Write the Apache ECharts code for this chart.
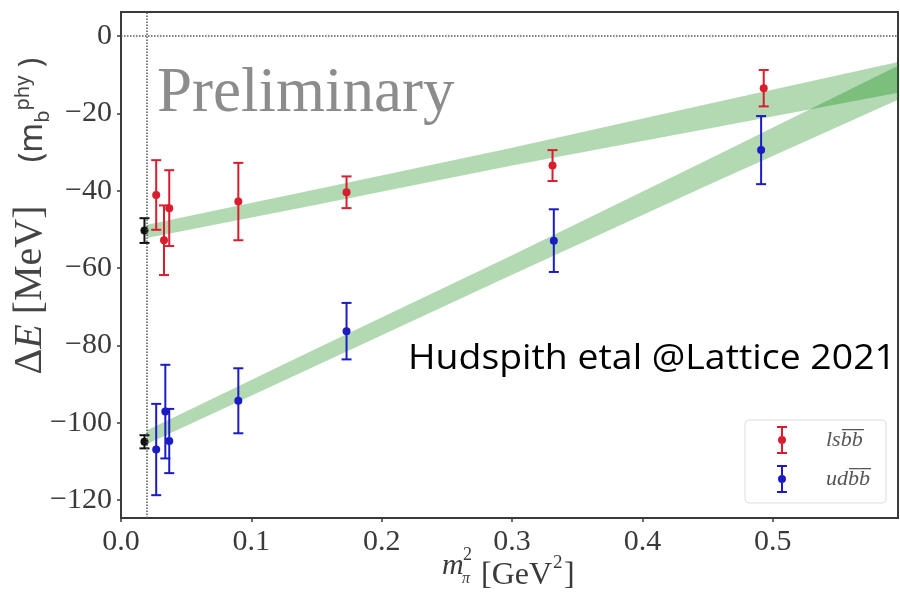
<!DOCTYPE html>
<html>
<head>
<meta charset="utf-8">
<script src="https://cdn.jsdelivr.net/npm/echarts@6/dist/echarts.min.js"></script>
<style>
  html, body { margin: 0; padding: 0; background: #fff; }
  #main { width: 900px; height: 596px; }
</style>
</head>
<body>
<div id="main"></div>
<script>
// ---- data ----
// lsbb points: m_pi^2, dE, error
const lsbbX = [0.027, 0.033, 0.037, 0.090, 0.173, 0.331, 0.493];
const lsbbY = [-41.1, -52.8, -44.5, -42.8, -40.4, -33.5, -13.5];
const lsbbErr = [9.0, 9.0, 9.8, 10.0, 4.1, 4.0, 4.7];

// udbb points
const udbbX = [0.027, 0.034, 0.037, 0.090, 0.173, 0.332, 0.491];
const udbbY = [-106.9, -97.1, -104.7, -94.3, -76.3, -52.9, -29.5];
const udbbErr = [11.8, 12.1, 8.3, 8.4, 7.3, 8.1, 8.8];

// physical point results (black)
const physX = [0.018, 0.018];
const physY = [-50.3, -104.9];
const physErr = [3.2, 1.7];

// fit bands (upper / lower edge)
const bandX = [0.02, 0.15, 0.3, 0.45, 0.596];
const lsbbBandHi = [-48.8, -39.6, -28.9, -17.6, -6.7];
const lsbbBandLo = [-52.2, -43.6, -33.5, -24.0, -14.7];
const udbbBandHi = [-101.9, -80.8, -56.7, -32.0, -7.7];
const udbbBandLo = [-105.5, -85.2, -61.7, -38.6, -16.5];

const physMpi2 = 0.018;

const serif = '"Liberation Serif", "DejaVu Serif", serif';
const sans = '"Noto Sans", "DejaVu Sans", sans-serif';
const red = '#d81e2e';
const blue = '#1c1cc4';
const bandColor = 'rgba(0, 128, 0, 0.3)';
const textGray = '#3a3a3a';

// 误差棒图标 (caps, stem split round the dot, dot drawn clockwise)
const errIcon = 'path://M0,0H10V2H0Z M4,2H6V10H4Z M4,18H6V26H4Z M0,26H10V28H0Z M1,14A4,4,0,1,1,9,14A4,4,0,1,1,1,14Z';

const chart = echarts.init(document.getElementById('main'));

function toPoints(xs, ys, es) {
  return xs.map((x, i) => [x, ys[i], es[i]]);
}

function errorBar(params, api) {
  const x = api.value(0);
  const y = api.value(1);
  const e = api.value(2);
  const c = api.coord([x, y]);
  const top = api.coord([x, y + e]);
  const bot = api.coord([x, y - e]);
  const color = api.visual('color');
  const cap = 5;
  const ls = { stroke: color, lineWidth: 2 };
  return {
    type: 'group',
    children: [
      { type: 'line', shape: { x1: c[0], y1: top[1], x2: c[0], y2: bot[1] }, style: ls },
      { type: 'line', shape: { x1: c[0] - cap, y1: top[1], x2: c[0] + cap, y2: top[1] }, style: ls },
      { type: 'line', shape: { x1: c[0] - cap, y1: bot[1], x2: c[0] + cap, y2: bot[1] }, style: ls },
      { type: 'circle', shape: { cx: c[0], cy: c[1], r: 4 }, style: { fill: color } }
    ]
  };
}

function bandSeries(hi, lo) {
  return {
    type: 'custom',
    silent: true,
    z: 1,
    data: [[0]],
    renderItem: (params, api) => {
      const pts = [];
      bandX.forEach((x, i) => pts.push(api.coord([x, hi[i]])));
      for (let i = bandX.length - 1; i >= 0; i--) pts.push(api.coord([bandX[i], lo[i]]));
      return { type: 'polygon', shape: { points: pts }, style: { fill: bandColor } };
    }
  };
}

// helper for free text, y is the middle of the line
function label(text, x, y, font, fill, extra) {
  return Object.assign({
    type: 'text', x: x, y: y, silent: true,
    style: { text: text, font: font, fill: fill || textGray, verticalAlign: 'middle' }
  }, extra || {});
}

const option = {
  backgroundColor: '#fff',
  animation: false,
  grid: {
    left: 121, right: 2, top: 12, bottom: 78,
    show: true, borderColor: '#3a3a3a', borderWidth: 2, backgroundColor: '#fff'
  },
  xAxis: {
    type: 'value',
    min: 0, max: 0.596, splitNumber: 5,
    axisLine: { show: false, onZero: false },
    axisTick: { show: true, length: 4, inside: false, lineStyle: { color: '#3a3a3a', width: 1.5 } },
    splitLine: { show: false },
    axisLabel: {
      margin: 9,
      fontFamily: serif, fontSize: 30, color: textGray,
      showMaxLabel: false,
      formatter: v => Math.abs(v * 10 - Math.round(v * 10)) < 1e-6 ? v.toFixed(1) : ''
    }
  },
  yAxis: {
    type: 'value',
    min: -124.6, max: 6.2, splitNumber: 6,
    axisLine: { show: false, onZero: false },
    axisTick: { show: true, length: 4, lineStyle: { color: '#3a3a3a', width: 1.5 } },
    splitLine: { show: false },
    axisLabel: {
      margin: 9,
      fontFamily: serif, fontSize: 30, color: textGray,
      showMinLabel: false, showMaxLabel: false,
      formatter: v => (Math.abs(v % 20) < 1e-6 ? (v < 0 ? '\u2212' + (-v) : String(v)) : '')
    }
  },
  legend: {
    orient: 'vertical',
    left: 745, top: 420,
    padding: [6, 16, 10, 32],
    itemGap: 11,
    itemWidth: 10, itemHeight: 28,
    backgroundColor: 'rgba(255,255,255,0.8)',
    borderColor: '#dddddd', borderWidth: 1, borderRadius: 4,
    data: [
      { name: 'lsb\u0305b\u0305', icon: errIcon },
      { name: 'udb\u0305b\u0305', icon: errIcon }
    ],
    textStyle: {
      fontFamily: serif, fontStyle: 'italic', fontSize: 22, color: '#555',
      padding: [0, 0, 0, 34]
    },
    selectedMode: false
  },
  graphic: [
    label('Preliminary', 157, 94, '63px ' + serif, '#8c8c8c'),
    label('Hudspith etal @Lattice 2021', 408, 359, '34px "Open Sans", sans-serif', '#000', { scaleX: 1.1 }),
    // y axis name
    {
      type: 'text', x: 30, y: 290, rotation: Math.PI / 2, silent: true,
      style: {
        text: '{n|\u0394}{i|E}{n| [MeV]}',
        align: 'center', verticalAlign: 'middle', fill: '#444',
        rich: {
          n: { fontFamily: serif, fontSize: 40, fill: '#444' },
          i: { fontFamily: serif, fontSize: 40, fontStyle: 'italic', fill: '#444' }
        }
      }
    },
    {
      type: 'text', x: 33, y: 110, rotation: Math.PI / 2, silent: true,
      style: {
        text: '{s|(m}{sub|b}{sup|phy}{s| )}',
        align: 'center', verticalAlign: 'middle', fill: '#444',
        rich: {
          s: { fontFamily: sans, fontSize: 32, lineHeight: 40, fill: '#444' },
          sub: { fontFamily: sans, fontSize: 20, lineHeight: 20, verticalAlign: 'bottom', fill: '#444' },
          sup: { fontFamily: sans, fontSize: 20, lineHeight: 20, verticalAlign: 'top', fill: '#444' }
        }
      }
    },
    // x axis name: m_pi^2 [GeV^2]
    label('m', 442, 566, 'italic 30px ' + serif),
    label('2', 463, 555, '18px ' + serif),
    label('\u03c0', 462, 579, 'italic 16px ' + serif),
    label('[GeV', 481, 576, '32px ' + serif),
    label('2', 553, 563, '19px ' + serif),
    label(']', 564, 576, '32px ' + serif)
  ],
  series: [
    bandSeries(lsbbBandHi, lsbbBandLo),
    bandSeries(udbbBandHi, udbbBandLo),
    {
      type: 'line', data: [], silent: true,
      markLine: {
        silent: true, symbol: 'none', label: { show: false },
        lineStyle: { color: '#555', type: 'dotted', width: 1.5 },
        data: [{ xAxis: physMpi2 }, { yAxis: 0 }]
      }
    },
    {
      name: 'lsb\u0305b\u0305', type: 'custom', z: 3,
      itemStyle: { color: red },
      renderItem: errorBar,
      data: toPoints(lsbbX, lsbbY, lsbbErr)
    },
    {
      name: 'udb\u0305b\u0305', type: 'custom', z: 3,
      itemStyle: { color: blue },
      renderItem: errorBar,
      data: toPoints(udbbX, udbbY, udbbErr)
    },
    {
      name: 'phys', type: 'custom', z: 4,
      itemStyle: { color: '#111' },
      renderItem: errorBar,
      data: toPoints(physX, physY, physErr)
    }
  ]
};

chart.setOption(option);
</script>
</body>
</html>
